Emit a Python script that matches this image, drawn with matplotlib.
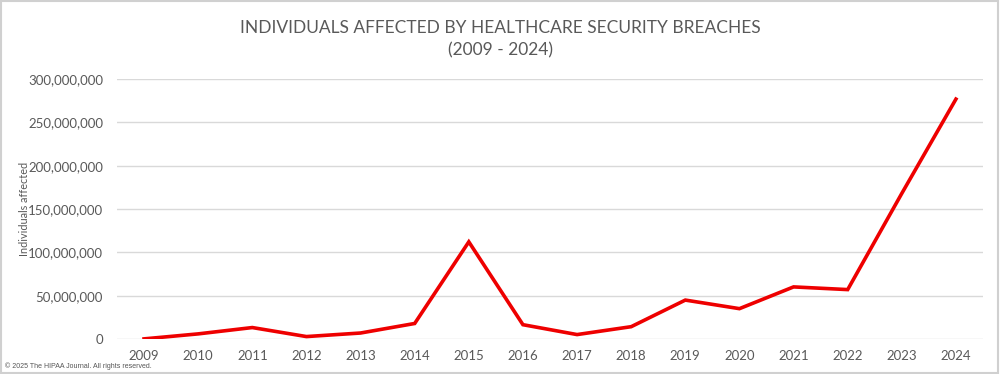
import matplotlib.pyplot as plt
from matplotlib.ticker import FuncFormatter
from matplotlib.patches import Rectangle

years = ['2009', '2010', '2011', '2012', '2013', '2014', '2015', '2016',
         '2017', '2018', '2019', '2020', '2021', '2022', '2023', '2024']
# individuals affected
affected = [135000, 5900000, 13200000, 2800000, 6900000, 17900000, 112100000,
            16500000, 5100000, 14200000, 44900000, 35000000, 60100000,
            57000000, 168000000, 276800000]

plt.rcParams['font.family'] = ['Lato', 'DejaVu Sans']
grey = '#595959'

fig = plt.figure(figsize=(10, 3.74), dpi=100)
ax = fig.add_axes([0.117, 0.0936, 0.866, 0.6952])

x = list(range(len(years)))
ax.plot(x, affected, color='#ee0000', linewidth=2.6, solid_joinstyle='miter')

ax.set_xlim(-0.5, len(years) - 0.5)
ax.set_ylim(0, 300000000)
ax.set_yticks(range(0, 300000001, 50000000))
ax.yaxis.set_major_formatter(FuncFormatter(lambda v, p: f'{int(v):,}'))
ax.set_xticks(x)
ax.set_xticklabels(years)
ax.tick_params(axis='both', length=0, labelsize=9.5, colors=grey)
ax.tick_params(axis='x', pad=8)
ax.tick_params(axis='y', pad=10)
ax.grid(axis='y', color='#d9d9d9', linewidth=1)
ax.set_axisbelow(True)
for s in ax.spines.values():
    s.set_visible(False)

ax.set_ylabel('Individuals affected', fontsize=7.8, color=grey)
ax.yaxis.set_label_coords(-0.1, 0.5)

fig.text(0.5, 0.925, 'INDIVIDUALS AFFECTED BY HEALTHCARE SECURITY BREACHES',
         ha='center', va='center', fontsize=12.5, color=grey)
fig.text(0.5, 0.866, '(2009 - 2024)', ha='center', va='center',
         fontsize=12.5, color=grey)
fig.text(0.005, 0.012, '© 2025 The HIPAA Journal. All rights reserved.',
         ha='left', va='bottom', fontsize=5, color='#555555',
         family=['Liberation Sans', 'DejaVu Sans'])

fig.patches.append(Rectangle((0.001, 0.002), 0.997, 0.995, transform=fig.transFigure,
                             fill=False, edgecolor='#d0d0d0', linewidth=1.5))

fig.savefig('out.png', dpi=100)
